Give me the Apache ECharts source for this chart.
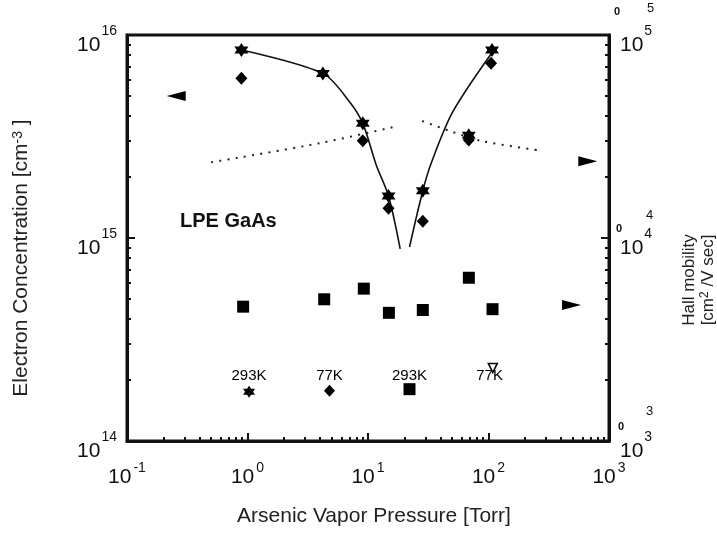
<!DOCTYPE html>
<html><head><meta charset="utf-8">
<script src="https://cdn.jsdelivr.net/npm/echarts@6/dist/echarts.min.js"></script>
<style>html,body{margin:0;padding:0;background:#fff}#c{width:717px;height:533px}</style>
</head><body><div id="c"></div>
<script>
// Electron concentration (left axis), 293 K (stars) and 77 K (diamonds)
const pressure293 = [0.89, 4.22, 9.05, 14.8, 28.5, 68.6, 107];
const conc293 = [8.44e15, 6.47e15, 3.67e15, 1.61e15, 1.71e15, 3.21e15, 8.44e15];
const pressure77 = [0.89, 9.05, 14.8, 28.5, 68.6, 105];
const conc77 = [6.12e15, 3.01e15, 1.40e15, 1.21e15, 3.04e15, 7.26e15];
// fitted V-shaped curve
const fitLeftP = [0.89, 4.22, 7.02, 9.05, 11.7, 14.8, 18.5];
const fitLeftN = [8.44e15, 6.47e15, 4.69e15, 3.67e15, 2.29e15, 1.61e15, 8.83e14];
const fitRightP = [22.1, 28.5, 33.5, 50.6, 114];
const fitRightN = [9.03e14, 1.71e15, 2.34e15, 4.19e15, 8.63e15];
// Hall mobility (right axis), 293 K squares
const mobPressure293 = [0.92, 4.33, 9.23, 14.9, 28.5, 68.7, 108];
const mobility293 = [4590, 4990, 5630, 4280, 4420, 6370, 4460];
// dotted mobility traces (77 K)
const dotLeftP = [0.5, 3.96, 16.6];
const dotLeftMu = [23600, 29300, 35300];
const dotRightP = [28.2, 47.5, 86.9, 274];
const dotRightMu = [37700, 33700, 30100, 26900];
// axis-pointing arrows
const arrowLeftP = [0.256];
const arrowLeftN = [5.01e15];
const arrowRightP = [667, 489];
const arrowRightMu = [23900, 4680];
// key (legend) markers and labels
const keyStarP = [1.03], keyStarN = [1.75e14];
const keyDiamondP = [4.79], keyDiamondN = [1.77e14];
const keySquareP = [22.1], keySquareMu = [1800];
const keyTriP = [108.6], keyTriMu = [2290];
const keyLabels = ['293K', '77K', '293K', '77K'];
const keyLabelP = [1.03, 4.79, 22.1, 102];
const keyLabelN = [2.09e14, 2.09e14, 2.09e14, 2.09e14];
// tick range
const xRange = [0.1, 1000];
const leftRange = [1e14, 1e16];
const rightRange = [1e3, 1e5];

const zip = (a, b) => a.map((v, i) => [v, b[i]]);
const STAR = 'path://M0,-10L2.89,-5L8.66,-5L5.77,0L8.66,5L2.89,5L0,10L-2.89,5L-8.66,5L-5.77,0L-8.66,-5L-2.89,-5Z';
const ARROW_L = 'path://M0,5L19,0L19,10Z';
const ARROW_R = 'path://M19,5L0,0L0,10Z';
const FONT = '"Liberation Sans", Arial, sans-serif';
const TXT = '#111';
const SOLID = {color: '#000', opacity: 1};

function expFmt(v) {
  const e = Math.round(Math.log10(v));
  return '{b|10}{s|' + e + '}';
}
const yRich = {
  b: {fontSize: 21, fontFamily: FONT, color: TXT, verticalAlign: 'bottom', padding: [20, 0, 0, 0]},
  s: {fontSize: 14, fontFamily: FONT, color: TXT, verticalAlign: 'top', padding: [10, 0, 0, 1]}
};
const xRich = {
  b: {fontSize: 21, fontFamily: FONT, color: TXT, verticalAlign: 'bottom', padding: [6, 0, 0, 0]},
  s: {fontSize: 14, fontFamily: FONT, color: TXT, verticalAlign: 'top', padding: [0, 0, 0, 2]}
};
const axLine = {show: true, lineStyle: {color: '#111', width: 3}};

const chart = echarts.init(document.getElementById('c'), null, {renderer: 'canvas'});
chart.setOption({
  animation: false,
  backgroundColor: '#fff',
  grid: {left: 127, right: 108, top: 35, bottom: 92, outerBoundsMode: 'none', containLabel: false,
    show: true, borderColor: '#111', borderWidth: 3, backgroundColor: 'transparent'},
  xAxis: {
    type: 'log', logBase: 10, min: xRange[0], max: xRange[1],
    axisLine: axLine,
    axisTick: {show: true, inside: true, length: 8, lineStyle: {color: '#111', width: 2}},
    minorTick: {show: true, splitNumber: 9, length: 4, lineStyle: {color: '#111', width: 2}},
    splitLine: {show: false},
    axisLabel: {formatter: expFmt, rich: xRich, margin: 20, showMinLabel: true, showMaxLabel: true},
    name: 'Arsenic Vapor Pressure [Torr]', nameLocation: 'middle', nameGap: 65,
    nameTextStyle: {fontSize: 21, fontFamily: FONT, color: '#222', padding: [0, 0, 0, 12]}
  },
  yAxis: [{
    type: 'log', logBase: 10, min: leftRange[0], max: leftRange[1],
    axisLine: axLine,
    axisTick: {show: true, inside: true, length: 8, lineStyle: {color: '#111', width: 2}},
    minorTick: {show: true, splitNumber: 9, length: 4, lineStyle: {color: '#111', width: 2}},
    splitLine: {show: false},
    axisLabel: {formatter: expFmt, rich: yRich, margin: 10},
    name: '{t|Electron Concentration [cm}{s|-3}{t| ]}', nameLocation: 'middle', nameRotate: 90, nameGap: 95,
    nameTextStyle: {padding: [0, 40, 0, 0], rich: {
      t: {fontSize: 21, fontFamily: FONT, color: '#222'},
      s: {fontSize: 14, fontFamily: FONT, color: '#222', verticalAlign: 'top'}
    }}
  }, {
    type: 'log', logBase: 10, min: rightRange[0], max: rightRange[1], position: 'right',
    axisLine: axLine,
    axisTick: {show: true, inside: true, length: 8, lineStyle: {color: '#111', width: 2}},
    minorTick: {show: true, splitNumber: 9, length: 4, lineStyle: {color: '#111', width: 2}},
    splitLine: {show: false},
    axisLabel: {formatter: expFmt, rich: yRich, margin: 11},
    name: '{t|Hall mobility}\n{t|[cm}{s|2}{t| /V sec]}', nameLocation: 'middle', nameRotate: 90, nameGap: 71,
    nameTextStyle: {padding: [0, 84, 0, 0], rich: {
      t: {fontSize: 17, fontFamily: FONT, color: '#222', lineHeight: 19},
      s: {fontSize: 12, fontFamily: FONT, color: '#222', verticalAlign: 'top', lineHeight: 19}
    }}
  }],
  series: [
    {type: 'line', name: 'fitL', data: zip(fitLeftP, fitLeftN), smooth: 0.3, symbol: 'none',
      lineStyle: {color: '#111', width: 1.6}, z: 2},
    {type: 'line', name: 'fitR', data: zip(fitRightP, fitRightN), smooth: 0.3, symbol: 'none',
      lineStyle: {color: '#111', width: 1.6}, z: 2},
    {type: 'line', name: 'dotL', yAxisIndex: 1, data: zip(dotLeftP, dotLeftMu), smooth: 0.3, symbol: 'none',
      lineStyle: {color: '#222', width: 2, type: [2, 6.3], cap: 'butt'}, z: 1},
    {type: 'line', name: 'dotR', yAxisIndex: 1, data: zip(dotRightP, dotRightMu), smooth: 0.3, symbol: 'none',
      lineStyle: {color: '#222', width: 2, type: [2, 6.3], cap: 'butt'}, z: 1},
    {type: 'scatter', name: 'n 293K', data: zip(pressure293, conc293), symbol: STAR, symbolSize: 14,
      itemStyle: SOLID, z: 4},
    {type: 'scatter', name: 'n 77K', data: zip(pressure77, conc77), symbol: 'diamond', symbolSize: [12, 13],
      itemStyle: SOLID, z: 3},
    {type: 'scatter', name: 'mu 293K', yAxisIndex: 1, data: zip(mobPressure293, mobility293), symbol: 'rect', symbolSize: 12,
      itemStyle: SOLID, z: 3},
    {type: 'scatter', name: 'arrowL', data: zip(arrowLeftP, arrowLeftN), symbol: ARROW_L, symbolSize: [19, 10],
      itemStyle: SOLID},
    {type: 'scatter', name: 'arrowR', yAxisIndex: 1, data: zip(arrowRightP, arrowRightMu), symbol: ARROW_R, symbolSize: [19, 10],
      itemStyle: SOLID},
    {type: 'scatter', name: 'keyStar', data: zip(keyStarP, keyStarN), symbol: STAR, symbolSize: 12, itemStyle: SOLID},
    {type: 'scatter', name: 'keyDiamond', data: zip(keyDiamondP, keyDiamondN), symbol: 'diamond', symbolSize: [11, 12], itemStyle: SOLID},
    {type: 'scatter', name: 'keySquare', yAxisIndex: 1, data: zip(keySquareP, keySquareMu), symbol: 'rect', symbolSize: 12, itemStyle: SOLID},
    {type: 'scatter', name: 'keyTri', yAxisIndex: 1, data: zip(keyTriP, keyTriMu), symbol: 'triangle', symbolRotate: 180, symbolSize: [9, 9],
      itemStyle: {color: '#fff', borderColor: '#000', borderWidth: 1.5, opacity: 1}, z: 5},
    {type: 'scatter', name: 'keyLabels', data: keyLabelP.map((p, i) => ({value: [p, keyLabelN[i]], name: keyLabels[i]})),
      symbolSize: 0, silent: true, itemStyle: {opacity: 1},
      label: {show: true, position: 'inside', formatter: '{b}', fontSize: 15, fontFamily: FONT, color: '#000'}, z: 4}
  ],
  graphic: [
    {type: 'text', left: 180, top: 211, style: {text: 'LPE GaAs', fontSize: 20, fontWeight: 'bold', fontFamily: FONT, fill: '#111'}},
    {type: 'text', left: 614, top: 6, style: {text: '0', fontSize: 11, fontWeight: 'bold', fontFamily: FONT, fill: '#111'}},
    {type: 'text', left: 647, top: 2, style: {text: '5', fontSize: 13, fontFamily: FONT, fill: '#111'}},
    {type: 'text', left: 616, top: 223, style: {text: '0', fontSize: 11, fontWeight: 'bold', fontFamily: FONT, fill: '#111'}},
    {type: 'text', left: 646, top: 209, style: {text: '4', fontSize: 13, fontFamily: FONT, fill: '#111'}},
    {type: 'text', left: 618, top: 421, style: {text: '0', fontSize: 11, fontWeight: 'bold', fontFamily: FONT, fill: '#111'}},
    {type: 'text', left: 646, top: 405, style: {text: '3', fontSize: 13, fontFamily: FONT, fill: '#111'}}
  ]
});
</script></body></html>
